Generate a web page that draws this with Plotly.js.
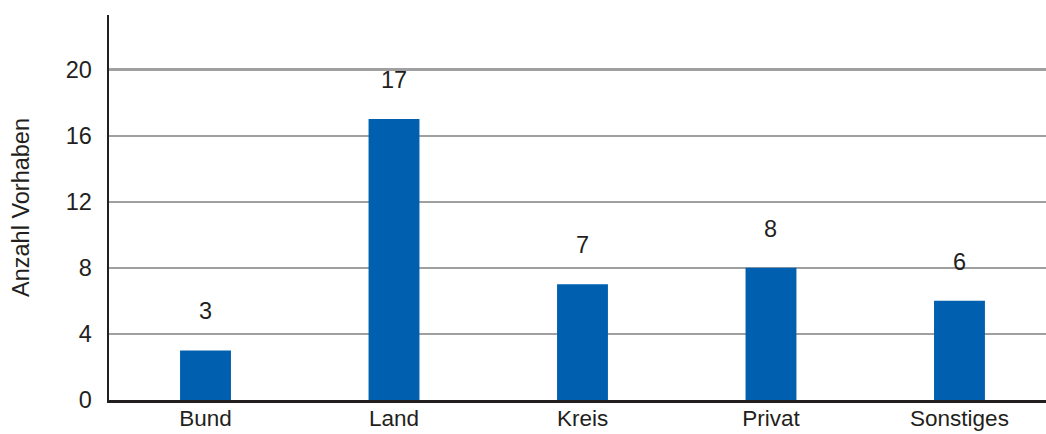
<!DOCTYPE html>
<html>
<head>
<meta charset="utf-8">
<script src="https://cdn.plot.ly/plotly-3.0.1.min.js"></script>
<style>html,body{margin:0;padding:0;background:#fff;}#chart{width:1046px;height:434px;}</style>
</head>
<body>
<div id="chart"></div>
<script>
const categories = ["Bund", "Land", "Kreis", "Privat", "Sonstiges"];
const counts = [3, 17, 7, 8, 6];
const yTicks = [0, 4, 8, 12, 16, 20];
const yTitle = "Anzahl Vorhaben";

const font = {family: "Liberation Sans, Arial, sans-serif", size: 23.5, color: "#231f20"};
const xFont = {family: "Liberation Sans, Arial, sans-serif", size: 22.5, color: "#231f20"};

const trace = {
  type: "bar",
  x: categories,
  y: counts,
  marker: {color: "#005fae", line: {width: 0}},
  hoverinfo: "none"
};

const annotations = categories.map((c, i) => ({
  x: c, y: counts[i], xref: "x", yref: "y",
  text: String(counts[i]), showarrow: false,
  yanchor: "bottom", yshift: 24,
  font: font
}));

const layout = {
  width: 1046, height: 434,
  margin: {l: 109, r: 0, t: 15, b: 34, pad: 0},
  paper_bgcolor: "#ffffff", plot_bgcolor: "#ffffff",
  font: font,
  showlegend: false,
  bargap: 0.73,
  xaxis: {
    type: "category",
    range: [-0.512, 4.459],
    showline: true, linecolor: "#231f20", linewidth: 2.5,
    showgrid: false, zeroline: false,
    ticks: "", tickfont: xFont,
    ticklabelstandoff: -4,
    fixedrange: true
  },
  yaxis: {
    range: [0, 23.3],
    tickmode: "array", tickvals: yTicks, ticktext: yTicks.map(String),
    showline: true, linecolor: "#231f20", linewidth: 2.5,
    showgrid: true, gridcolor: "#a0a0a0", gridwidth: 2.2,
    zeroline: false, ticks: "",
    ticklabelstandoff: 10,
    tickfont: font,
    title: {text: yTitle, font: font, standoff: 30},
    fixedrange: true
  },
  annotations: annotations
};

Plotly.newPlot("chart", [trace], layout, {displayModeBar: false, staticPlot: true});
</script>
</body>
</html>
